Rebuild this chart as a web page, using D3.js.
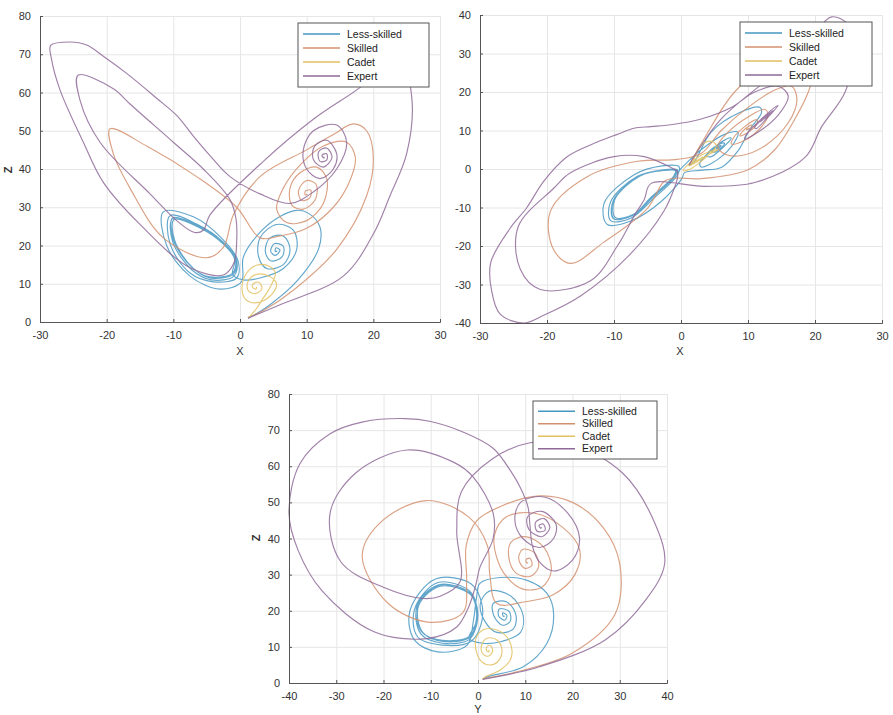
<!DOCTYPE html>
<html>
<head>
<meta charset="utf-8">
<script src="https://cdn.jsdelivr.net/npm/d3@7"></script>
<style>
body { margin: 0; background: #fff; }
svg { font-family: "Liberation Sans", Arial, sans-serif; }
</style>
</head>
<body>
<svg id="chart" width="893" height="715"></svg>
<script>
const lessSkilled = [
[1.2,1.0,1.0],[2.0,1.9,1.7],[4.5,9.6,4.5],[8.7,14.6,11.0],[11.8,16.0,19.2],[12.0,14.6,24.8],[10.3,10.4,28.4],[8.5,4.7,29.2],[6.0,0.4,27.6],[3.2,-0.3,23.8],[0.5,-1.0,17.0],
[0.2,-2.3,10.5],[-3.0,-8.5,8.6],[-7.5,-13.5,12.0],[-11.0,-14.4,20.0],[-11.5,-9.0,28.8],[-7.0,-1.5,27.5],[-2.8,0.8,22.0],[-0.3,0.6,16.0],[-0.5,-1.5,11.5],[-4.0,-7.5,10.5],
[-7.5,-12.8,12.8],[-10.5,-13.4,20.5],[-10.5,-8.5,27.8],[-6.5,-1.9,25.6],[-2.6,-0.2,21.0],[-0.5,-0.3,16.0],[-0.9,-1.9,12.0],[-4.3,-7.5,11.0],
[-7.2,-12.1,13.6],[-10.1,-12.9,21.0],[-10.1,-8.2,27.1],[-6.1,-1.8,25.0],[-2.4,-0.3,20.6],[-0.6,-0.4,16.2],[-1.0,-1.9,12.5],[-4.5,-7.4,11.5],
[-7.0,-11.7,14.0],[-9.8,-12.6,21.3],[-9.9,-8.0,26.8],[-6.0,-1.7,24.6],[-2.5,-0.3,20.4],[-0.7,-0.4,16.3],[-1.1,-1.9,12.8],[-4.6,-7.6,11.8],
[-7.2,-12.0,14.3],[-10.0,-12.9,21.5],[-10.1,-8.3,27.2],[-6.2,-1.8,25.0],[-2.6,-0.4,20.7],[-0.8,-0.5,16.4],[-1.1,-1.9,12.4],
[0.5,1.0,11.0],[3.0,5.0,11.5],[6.5,9.0,14.0],[8.5,9.5,19.0],[8.0,7.0,24.0],[5.5,2.5,25.5],[3.0,0.5,22.0],[2.8,1.5,17.0],[4.0,4.0,14.0],[6.5,7.5,15.0],[7.5,8.0,19.0],[6.5,6.0,22.5],[4.5,3.2,22.0],[3.8,3.4,18.5],[4.6,5.2,16.0],[6.3,6.8,17.0],[6.5,6.6,19.8],[5.2,4.5,20.5],[4.6,4.4,18.5],[5.3,5.7,17.4],[6.0,6.1,18.8],[5.4,5.2,19.4],[5.3,5.4,18.4],[5.6,5.6,18.6]
];

const skilled = [
[1.2,1.0,1.2],[3.5,8.0,3.0],[8.0,20.0,8.3],[14.5,29.0,19.0],[19.0,30.0,33.0],[20.0,26.5,43.0],[19.0,20.0,50.0],[17.0,13.0,51.8],[14.0,5.0,49.0],[10.0,-0.2,45.0],[3.0,-2.5,38.0],[-1.0,-2.4,28.0],[-2.5,-3.2,19.5],[-5.0,-10.2,16.8],[-11.5,-19.0,22.0],[-16.5,-24.5,35.0],[-19.0,-21.0,44.0],[-19.5,-11.0,50.5],[-14.0,-2.0,46.0],[-6.5,2.0,38.0],[-0.5,2.5,30.0],[3.0,4.0,22.0],
[6.0,10.0,22.5],[10.0,16.0,24.5],[14.0,20.5,30.0],[16.5,21.5,37.0],[17.3,18.0,43.0],[16.0,12.0,47.0],[12.5,6.0,46.0],[9.0,3.5,41.0],[6.5,3.9,35.0],[5.5,6.0,29.5],[7.0,9.5,26.0],[10.0,13.5,26.5],[12.5,15.5,31.0],[13.0,14.0,37.5],[11.5,10.0,40.5],[9.0,7.0,39.0],[7.5,6.5,35.0],[7.8,8.0,30.5],[9.5,11.0,29.5],[11.3,12.8,32.0],[11.4,12.0,36.0],[10.0,9.5,37.0],[8.8,8.6,34.5],[9.2,9.8,31.8],[10.5,11.4,32.5],[10.6,11.0,34.5],[9.8,10.2,34.2],[9.8,10.3,33.2],[10.1,10.6,33.4]
];

const cadet = [
[1.3,1.0,1.0],[1.5,1.3,1.5],[2.5,4.7,3.6],[3.5,6.8,6.3],[4.5,7.2,9.0],[5.3,6.1,12.8],[4.4,4.2,14.6],[2.6,1.4,14.9],[1.0,-0.3,12.8],[0.3,-0.4,9.0],[0.8,0.7,6.0],[2.3,2.8,5.0],[4.4,4.6,6.6],[5.5,5.0,9.8],[4.3,3.9,12.0],[2.4,1.9,12.4],[1.2,0.8,10.6],[1.2,0.9,8.3],[2.3,2.1,7.4],[3.3,3.1,8.8],[2.8,2.6,10.4],[2.0,1.9,10.0],[1.9,1.8,9.0],[2.4,2.3,8.6],[2.5,2.3,9.2]
];

const expert = [
[1.2,1.0,1.0],[6.0,13.0,4.5],[15.5,27.0,12.0],[20.0,35.5,23.0],[22.5,39.5,33.0],[25.0,37.5,44.0],[25.8,30.7,58.0],[24.5,20.0,66.0],[21.0,11.0,66.5],[18.5,3.0,62.0],[11.0,-3.5,53.0],[3.5,-4.5,42.0],[-4.5,-3.8,28.0],
[-5.5,-8.0,24.0],[-6.8,-11.6,23.4],[-9.5,-20.0,26.5],[-13.5,-29.0,33.5],[-21.0,-31.3,47.0],[-24.0,-26.0,58.0],[-24.3,-15.0,64.5],[-19.0,-5.0,61.0],[-16.5,-1.0,57.0],[-10.0,3.2,47.0],[-5.5,3.2,40.0],[-1.5,0.4,32.0],[-0.6,-0.5,27.0],
[-0.5,-2.0,21.0],[-0.9,-4.5,15.5],[-2.5,-10.8,12.3],[-7.5,-22.0,14.2],[-15.0,-33.0,25.5],[-20.5,-38.0,36.5],[-23.5,-40.0,47.0],[-27.0,-37.7,60.7],[-28.3,-31.3,69.0],[-28.4,-24.3,72.3],[-25.5,-15.4,73.2],[-23.0,-10.0,72.4],[-20.5,-3.2,69.5],[-17.0,3.2,65.0],[-12.5,7.0,58.5],[-9.5,9.0,54.0],[-7.0,10.6,48.6],[-4.5,11.0,43.5],[-1.5,11.5,38.0],[3.0,13.0,33.5],[7.5,16.0,31.0],
[11.0,20.0,34.0],[14.5,21.5,40.0],[16.0,19.0,47.0],[14.5,14.0,51.5],[11.0,9.0,50.0],[9.5,7.8,45.0],[10.0,9.5,40.0],[12.0,13.0,37.5],[14.0,16.0,40.0],[14.5,16.5,44.0],[13.0,13.5,47.5],[11.2,10.5,46.0],[11.0,10.8,42.5],[12.5,13.5,40.5],[13.8,15.2,43.0],[13.0,14.0,45.5],[11.8,12.2,44.5],[12.0,12.5,42.0],[13.0,14.2,42.3],[13.0,13.8,44.0],[12.3,12.9,43.6],[12.6,13.3,42.8],[12.6,13.4,43.2]
];

const seriesNames = ["Less-skilled", "Skilled", "Cadet", "Expert"];
const seriesData = [lessSkilled, skilled, cadet, expert];
const seriesColors = ["#4697c2", "#d3906f", "#e2c160", "#8f6a99"];

const ticks30 = [-30, -20, -10, 0, 10, 20, 30];
const ticks40 = [-40, -30, -20, -10, 0, 10, 20, 30, 40];
const ticksZ = [0, 10, 20, 30, 40, 50, 60, 70, 80];

const panels = [
  {left: 40, top: 16, w: 400, h: 306, xi: 0, yi: 2, xd: [-30, 30], yd: [0, 80], xt: ticks30, yt: ticksZ,
   xLab: "X", xLabPos: [240, 355], yLab: "Z", yLabPos: [12, 170], legend: [298, 23, 131, 64]},
  {left: 480, top: 15, w: 402, h: 308, xi: 0, yi: 1, xd: [-30, 30], yd: [-40, 40], xt: ticks30, yt: ticks40,
   xLab: "X", xLabPos: [680, 355], yLab: null, legend: [740, 22, 132, 64]},
  {left: 289, top: 394, w: 378, h: 289, xi: 1, yi: 2, xd: [-40, 40], yd: [0, 80], xt: ticks40, yt: ticksZ,
   xLab: "Y", xLabPos: [478, 713], yLab: "Z", yLabPos: [260, 538], legend: [533, 401, 124, 58]}
];

const svg = d3.select("#chart");
const fmt = d => String(d);

panels.forEach((p, pi) => {
  const x = d3.scaleLinear().domain(p.xd).range([0, p.w]);
  const y = d3.scaleLinear().domain(p.yd).range([p.h, 0]);

  const g = svg.append("g").attr("transform", `translate(${p.left},${p.top})`);

  // grid
  g.append("g").attr("transform", `translate(0,${p.h})`)
    .call(d3.axisBottom(x).tickValues(p.xt).tickSize(-p.h).tickFormat(""))
    .call(a => a.select(".domain").remove())
    .call(a => a.selectAll("line").attr("stroke", "#e6e6e6"));
  g.append("g")
    .call(d3.axisLeft(y).tickValues(p.yt).tickSize(-p.w).tickFormat(""))
    .call(a => a.select(".domain").remove())
    .call(a => a.selectAll("line").attr("stroke", "#e6e6e6"));

  g.append("clipPath").attr("id", "clip" + pi)
    .append("rect").attr("x", -1).attr("y", -1).attr("width", p.w + 2).attr("height", p.h + 2);

  const line = d3.line()
    .x(d => x(d[p.xi]))
    .y(d => y(d[p.yi]))
    .curve(d3.curveCatmullRom.alpha(0.5));

  g.append("g").attr("clip-path", `url(#clip${pi})`)
    .selectAll("path").data(seriesData).enter().append("path")
    .attr("d", d => line(d))
    .attr("fill", "none")
    .attr("stroke", (d, i) => seriesColors[i])
    .attr("stroke-width", 1.15)
    .attr("stroke-opacity", 0.85);

  // axes
  const xAxis = g.append("g").attr("transform", `translate(0,${p.h})`)
    .call(d3.axisBottom(x).tickValues(p.xt).tickSize(-3).tickPadding(9).tickFormat(fmt));
  const yAxis = g.append("g")
    .call(d3.axisLeft(y).tickValues(p.yt).tickSize(-3).tickPadding(9).tickFormat(fmt));
  [xAxis, yAxis].forEach(a => {
    a.select(".domain").attr("stroke", "#555");
    a.selectAll(".tick line").attr("stroke", "#555");
    a.selectAll("text").attr("font-size", 11).attr("fill", "#333");
  });

  svg.append("text").attr("x", p.xLabPos[0]).attr("y", p.xLabPos[1])
    .attr("text-anchor", "middle").attr("font-size", 11).attr("fill", "#333").text(p.xLab);
  if (p.yLab) {
    svg.append("text")
      .attr("transform", `translate(${p.yLabPos[0]},${p.yLabPos[1]}) rotate(-90)`)
      .attr("text-anchor", "middle").attr("font-size", 11).attr("fill", "#333").attr("font-weight", "bold")
      .text(p.yLab);
  }

  // legend
  const [lx, ly, lw, lh] = p.legend;
  const lg = svg.append("g").attr("transform", `translate(${lx},${ly})`);
  lg.append("rect").attr("width", lw).attr("height", lh)
    .attr("fill", "#fff").attr("stroke", "#555").attr("stroke-width", 1);
  const rowH = (lh - 8) / 4;
  seriesNames.forEach((name, i) => {
    const ry = 4 + rowH * (i + 0.5);
    lg.append("line").attr("x1", 5).attr("x2", 42).attr("y1", ry).attr("y2", ry)
      .attr("stroke", seriesColors[i]).attr("stroke-width", 1.3);
    lg.append("text").attr("x", 49).attr("y", ry).attr("dy", "0.35em")
      .attr("font-size", 10.5).attr("fill", "#222").text(name);
  });
});
</script>
</body>
</html>
